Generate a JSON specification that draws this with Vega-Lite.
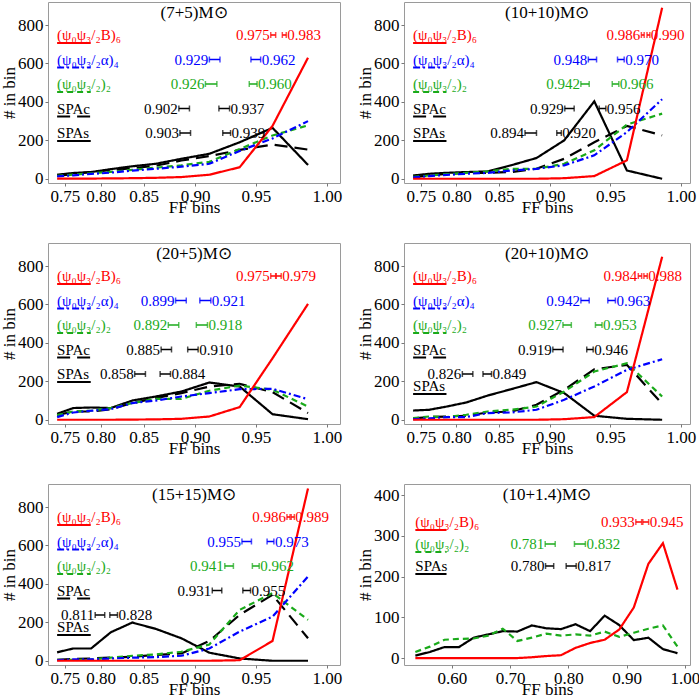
{
"$schema": "https://vega.github.io/schema/vega-lite/v6.json",
"padding": {"left": 0, "top": 1, "right": 0, "bottom": 0},
"config": {
 "font": "Liberation Serif",
 "view": {"stroke": "#9a9a9a", "strokeWidth": 1},
 "axis": {"grid": false, "domain": false, "labelFont": "Liberation Serif", "titleFont": "Liberation Serif", "labelFontSize": 17, "titleFontSize": 17, "titleFontWeight": "normal", "labelColor": "#000", "titleColor": "#000", "tickColor": "#777", "tickSize": 3, "labelOverlap": false, "labelFlush": false},
 "axisX": {"labelPadding": 2, "titlePadding": -5},
 "axisY": {"labelPadding": 2, "titlePadding": -1},
 "title": {"font": "Liberation Serif", "fontSize": 17, "fontWeight": "normal", "color": "#000", "offset": -20},
 "text": {"font": "Liberation Serif"}
},
"datasets": {
"curves": [
{"p":1,"s":"SPAs","x":0.7375,"n":21},{"p":1,"s":"SPAs","x":0.7625,"n":30},{"p":1,"s":"SPAs","x":0.7875,"n":35},{"p":1,"s":"SPAs","x":0.8125,"n":50},{"p":1,"s":"SPAs","x":0.8375,"n":65},{"p":1,"s":"SPAs","x":0.8625,"n":78},{"p":1,"s":"SPAs","x":0.8875,"n":104},{"p":1,"s":"SPAs","x":0.9125,"n":130},{"p":1,"s":"SPAs","x":0.9375,"n":190},{"p":1,"s":"SPAs","x":0.9625,"n":265},{"p":1,"s":"SPAs","x":0.9875,"n":72},
{"p":1,"s":"SPAc","x":0.7375,"n":15},{"p":1,"s":"SPAc","x":0.7625,"n":25},{"p":1,"s":"SPAc","x":0.7875,"n":35},{"p":1,"s":"SPAc","x":0.8125,"n":45},{"p":1,"s":"SPAc","x":0.8375,"n":55},{"p":1,"s":"SPAc","x":0.8625,"n":68},{"p":1,"s":"SPAc","x":0.8875,"n":95},{"p":1,"s":"SPAc","x":0.9125,"n":118},{"p":1,"s":"SPAc","x":0.9375,"n":150},{"p":1,"s":"SPAc","x":0.9625,"n":178},{"p":1,"s":"SPAc","x":0.9875,"n":152},
{"p":1,"s":"P2","x":0.7375,"n":15},{"p":1,"s":"P2","x":0.7625,"n":22},{"p":1,"s":"P2","x":0.7875,"n":28},{"p":1,"s":"P2","x":0.8125,"n":36},{"p":1,"s":"P2","x":0.8375,"n":46},{"p":1,"s":"P2","x":0.8625,"n":58},{"p":1,"s":"P2","x":0.8875,"n":70},{"p":1,"s":"P2","x":0.9125,"n":88},{"p":1,"s":"P2","x":0.9375,"n":155},{"p":1,"s":"P2","x":0.9625,"n":225},{"p":1,"s":"P2","x":0.9875,"n":278},
{"p":1,"s":"A4","x":0.7375,"n":12},{"p":1,"s":"A4","x":0.7625,"n":18},{"p":1,"s":"A4","x":0.7875,"n":25},{"p":1,"s":"A4","x":0.8125,"n":32},{"p":1,"s":"A4","x":0.8375,"n":42},{"p":1,"s":"A4","x":0.8625,"n":52},{"p":1,"s":"A4","x":0.8875,"n":63},{"p":1,"s":"A4","x":0.9125,"n":78},{"p":1,"s":"A4","x":0.9375,"n":145},{"p":1,"s":"A4","x":0.9625,"n":210},{"p":1,"s":"A4","x":0.9875,"n":300},
{"p":1,"s":"B6","x":0.7375,"n":1},{"p":1,"s":"B6","x":0.7625,"n":1},{"p":1,"s":"B6","x":0.7875,"n":1},{"p":1,"s":"B6","x":0.8125,"n":2},{"p":1,"s":"B6","x":0.8375,"n":3},{"p":1,"s":"B6","x":0.8625,"n":5},{"p":1,"s":"B6","x":0.8875,"n":9},{"p":1,"s":"B6","x":0.9125,"n":21},{"p":1,"s":"B6","x":0.9375,"n":60},{"p":1,"s":"B6","x":0.9625,"n":275},{"p":1,"s":"B6","x":0.9875,"n":630},
{"p":2,"s":"SPAs","x":0.7375,"n":17},{"p":2,"s":"SPAs","x":0.7625,"n":26},{"p":2,"s":"SPAs","x":0.7875,"n":31},{"p":2,"s":"SPAs","x":0.8125,"n":35},{"p":2,"s":"SPAs","x":0.8375,"n":38},{"p":2,"s":"SPAs","x":0.8625,"n":70},{"p":2,"s":"SPAs","x":0.8875,"n":108},{"p":2,"s":"SPAs","x":0.9125,"n":200},{"p":2,"s":"SPAs","x":0.9375,"n":403},{"p":2,"s":"SPAs","x":0.9625,"n":43},{"p":2,"s":"SPAs","x":0.9875,"n":0},
{"p":2,"s":"SPAc","x":0.7375,"n":9},{"p":2,"s":"SPAc","x":0.7625,"n":17},{"p":2,"s":"SPAc","x":0.7875,"n":26},{"p":2,"s":"SPAc","x":0.8125,"n":30},{"p":2,"s":"SPAc","x":0.8375,"n":31},{"p":2,"s":"SPAc","x":0.8625,"n":35},{"p":2,"s":"SPAc","x":0.8875,"n":52},{"p":2,"s":"SPAc","x":0.9125,"n":104},{"p":2,"s":"SPAc","x":0.9375,"n":190},{"p":2,"s":"SPAc","x":0.9625,"n":275},{"p":2,"s":"SPAc","x":0.9875,"n":226},
{"p":2,"s":"P2","x":0.7375,"n":10},{"p":2,"s":"P2","x":0.7625,"n":17},{"p":2,"s":"P2","x":0.7875,"n":24},{"p":2,"s":"P2","x":0.8125,"n":31},{"p":2,"s":"P2","x":0.8375,"n":38},{"p":2,"s":"P2","x":0.8625,"n":52},{"p":2,"s":"P2","x":0.8875,"n":52},{"p":2,"s":"P2","x":0.9125,"n":78},{"p":2,"s":"P2","x":0.9375,"n":148},{"p":2,"s":"P2","x":0.9625,"n":282},{"p":2,"s":"P2","x":0.9875,"n":339},
{"p":2,"s":"A4","x":0.7375,"n":7},{"p":2,"s":"A4","x":0.7625,"n":14},{"p":2,"s":"A4","x":0.7875,"n":20},{"p":2,"s":"A4","x":0.8125,"n":26},{"p":2,"s":"A4","x":0.8375,"n":31},{"p":2,"s":"A4","x":0.8625,"n":43},{"p":2,"s":"A4","x":0.8875,"n":52},{"p":2,"s":"A4","x":0.9125,"n":70},{"p":2,"s":"A4","x":0.9375,"n":122},{"p":2,"s":"A4","x":0.9625,"n":243},{"p":2,"s":"A4","x":0.9875,"n":414},
{"p":2,"s":"B6","x":0.7375,"n":0},{"p":2,"s":"B6","x":0.7625,"n":0},{"p":2,"s":"B6","x":0.7875,"n":0},{"p":2,"s":"B6","x":0.8125,"n":0},{"p":2,"s":"B6","x":0.8375,"n":0},{"p":2,"s":"B6","x":0.8625,"n":0},{"p":2,"s":"B6","x":0.8875,"n":0},{"p":2,"s":"B6","x":0.9125,"n":3},{"p":2,"s":"B6","x":0.9375,"n":14},{"p":2,"s":"B6","x":0.9625,"n":96},{"p":2,"s":"B6","x":0.9875,"n":890},
{"p":3,"s":"SPAs","x":0.7375,"n":31},{"p":3,"s":"SPAs","x":0.7625,"n":61},{"p":3,"s":"SPAs","x":0.7875,"n":64},{"p":3,"s":"SPAs","x":0.8125,"n":61},{"p":3,"s":"SPAs","x":0.8375,"n":100},{"p":3,"s":"SPAs","x":0.8625,"n":121},{"p":3,"s":"SPAs","x":0.8875,"n":147},{"p":3,"s":"SPAs","x":0.9125,"n":194},{"p":3,"s":"SPAs","x":0.9375,"n":173},{"p":3,"s":"SPAs","x":0.9625,"n":29},{"p":3,"s":"SPAs","x":0.9875,"n":3},
{"p":3,"s":"SPAc","x":0.7375,"n":24},{"p":3,"s":"SPAc","x":0.7625,"n":43},{"p":3,"s":"SPAc","x":0.7875,"n":43},{"p":3,"s":"SPAc","x":0.8125,"n":55},{"p":3,"s":"SPAc","x":0.8375,"n":87},{"p":3,"s":"SPAc","x":0.8625,"n":113},{"p":3,"s":"SPAc","x":0.8875,"n":139},{"p":3,"s":"SPAc","x":0.9125,"n":173},{"p":3,"s":"SPAc","x":0.9375,"n":187},{"p":3,"s":"SPAc","x":0.9625,"n":144},{"p":3,"s":"SPAc","x":0.9875,"n":35},
{"p":3,"s":"P2","x":0.7375,"n":24},{"p":3,"s":"P2","x":0.7625,"n":43},{"p":3,"s":"P2","x":0.7875,"n":47},{"p":3,"s":"P2","x":0.8125,"n":61},{"p":3,"s":"P2","x":0.8375,"n":87},{"p":3,"s":"P2","x":0.8625,"n":109},{"p":3,"s":"P2","x":0.8875,"n":109},{"p":3,"s":"P2","x":0.9125,"n":151},{"p":3,"s":"P2","x":0.9375,"n":178},{"p":3,"s":"P2","x":0.9625,"n":156},{"p":3,"s":"P2","x":0.9875,"n":69},
{"p":3,"s":"A4","x":0.7375,"n":14},{"p":3,"s":"A4","x":0.7625,"n":38},{"p":3,"s":"A4","x":0.7875,"n":47},{"p":3,"s":"A4","x":0.8125,"n":55},{"p":3,"s":"A4","x":0.8375,"n":87},{"p":3,"s":"A4","x":0.8625,"n":100},{"p":3,"s":"A4","x":0.8875,"n":121},{"p":3,"s":"A4","x":0.9125,"n":139},{"p":3,"s":"A4","x":0.9375,"n":159},{"p":3,"s":"A4","x":0.9625,"n":161},{"p":3,"s":"A4","x":0.9875,"n":107},
{"p":3,"s":"B6","x":0.7375,"n":0},{"p":3,"s":"B6","x":0.7625,"n":0},{"p":3,"s":"B6","x":0.7875,"n":0},{"p":3,"s":"B6","x":0.8125,"n":0},{"p":3,"s":"B6","x":0.8375,"n":1},{"p":3,"s":"B6","x":0.8625,"n":2},{"p":3,"s":"B6","x":0.8875,"n":5},{"p":3,"s":"B6","x":0.9125,"n":17},{"p":3,"s":"B6","x":0.9375,"n":66},{"p":3,"s":"B6","x":0.9625,"n":320},{"p":3,"s":"B6","x":0.9875,"n":603},
{"p":4,"s":"SPAs","x":0.7375,"n":48},{"p":4,"s":"SPAs","x":0.7625,"n":52},{"p":4,"s":"SPAs","x":0.7875,"n":69},{"p":4,"s":"SPAs","x":0.8125,"n":90},{"p":4,"s":"SPAs","x":0.8375,"n":126},{"p":4,"s":"SPAs","x":0.8625,"n":159},{"p":4,"s":"SPAs","x":0.8875,"n":196},{"p":4,"s":"SPAs","x":0.9125,"n":139},{"p":4,"s":"SPAs","x":0.9375,"n":21},{"p":4,"s":"SPAs","x":0.9625,"n":5},{"p":4,"s":"SPAs","x":0.9875,"n":0},
{"p":4,"s":"SPAc","x":0.7375,"n":7},{"p":4,"s":"SPAc","x":0.7625,"n":14},{"p":4,"s":"SPAc","x":0.7875,"n":17},{"p":4,"s":"SPAc","x":0.8125,"n":21},{"p":4,"s":"SPAc","x":0.8375,"n":38},{"p":4,"s":"SPAc","x":0.8625,"n":43},{"p":4,"s":"SPAc","x":0.8875,"n":78},{"p":4,"s":"SPAc","x":0.9125,"n":156},{"p":4,"s":"SPAc","x":0.9375,"n":263},{"p":4,"s":"SPAc","x":0.9625,"n":286},{"p":4,"s":"SPAc","x":0.9875,"n":83},
{"p":4,"s":"P2","x":0.7375,"n":9},{"p":4,"s":"P2","x":0.7625,"n":17},{"p":4,"s":"P2","x":0.7875,"n":14},{"p":4,"s":"P2","x":0.8125,"n":26},{"p":4,"s":"P2","x":0.8375,"n":43},{"p":4,"s":"P2","x":0.8625,"n":52},{"p":4,"s":"P2","x":0.8875,"n":69},{"p":4,"s":"P2","x":0.9125,"n":147},{"p":4,"s":"P2","x":0.9375,"n":251},{"p":4,"s":"P2","x":0.9625,"n":294},{"p":4,"s":"P2","x":0.9875,"n":121},
{"p":4,"s":"A4","x":0.7375,"n":3},{"p":4,"s":"A4","x":0.7625,"n":7},{"p":4,"s":"A4","x":0.7875,"n":14},{"p":4,"s":"A4","x":0.8125,"n":14},{"p":4,"s":"A4","x":0.8375,"n":35},{"p":4,"s":"A4","x":0.8625,"n":38},{"p":4,"s":"A4","x":0.8875,"n":52},{"p":4,"s":"A4","x":0.9125,"n":104},{"p":4,"s":"A4","x":0.9375,"n":173},{"p":4,"s":"A4","x":0.9625,"n":260},{"p":4,"s":"A4","x":0.9875,"n":315},
{"p":4,"s":"B6","x":0.7375,"n":0},{"p":4,"s":"B6","x":0.7625,"n":0},{"p":4,"s":"B6","x":0.7875,"n":0},{"p":4,"s":"B6","x":0.8125,"n":0},{"p":4,"s":"B6","x":0.8375,"n":0},{"p":4,"s":"B6","x":0.8625,"n":0},{"p":4,"s":"B6","x":0.8875,"n":0},{"p":4,"s":"B6","x":0.9125,"n":3},{"p":4,"s":"B6","x":0.9375,"n":14},{"p":4,"s":"B6","x":0.9625,"n":144},{"p":4,"s":"B6","x":0.9875,"n":848},
{"p":5,"s":"SPAs","x":0.7375,"n":44},{"p":5,"s":"SPAs","x":0.7625,"n":64},{"p":5,"s":"SPAs","x":0.7875,"n":64},{"p":5,"s":"SPAs","x":0.8125,"n":148},{"p":5,"s":"SPAs","x":0.8375,"n":199},{"p":5,"s":"SPAs","x":0.8625,"n":166},{"p":5,"s":"SPAs","x":0.8875,"n":117},{"p":5,"s":"SPAs","x":0.9125,"n":42},{"p":5,"s":"SPAs","x":0.9375,"n":12},{"p":5,"s":"SPAs","x":0.9625,"n":0},{"p":5,"s":"SPAs","x":0.9875,"n":0},
{"p":5,"s":"SPAc","x":0.7375,"n":5},{"p":5,"s":"SPAc","x":0.7625,"n":9},{"p":5,"s":"SPAc","x":0.7875,"n":12},{"p":5,"s":"SPAc","x":0.8125,"n":17},{"p":5,"s":"SPAc","x":0.8375,"n":21},{"p":5,"s":"SPAc","x":0.8625,"n":30},{"p":5,"s":"SPAc","x":0.8875,"n":38},{"p":5,"s":"SPAc","x":0.9125,"n":103},{"p":5,"s":"SPAc","x":0.9375,"n":239},{"p":5,"s":"SPAc","x":0.9625,"n":343},{"p":5,"s":"SPAc","x":0.9875,"n":117},
{"p":5,"s":"P2","x":0.7375,"n":5},{"p":5,"s":"P2","x":0.7625,"n":5},{"p":5,"s":"P2","x":0.7875,"n":7},{"p":5,"s":"P2","x":0.8125,"n":16},{"p":5,"s":"P2","x":0.8375,"n":26},{"p":5,"s":"P2","x":0.8625,"n":33},{"p":5,"s":"P2","x":0.8875,"n":47},{"p":5,"s":"P2","x":0.9125,"n":85},{"p":5,"s":"P2","x":0.9375,"n":265},{"p":5,"s":"P2","x":0.9625,"n":352},{"p":5,"s":"P2","x":0.9875,"n":213},
{"p":5,"s":"A4","x":0.7375,"n":3},{"p":5,"s":"A4","x":0.7625,"n":7},{"p":5,"s":"A4","x":0.7875,"n":7},{"p":5,"s":"A4","x":0.8125,"n":12},{"p":5,"s":"A4","x":0.8375,"n":16},{"p":5,"s":"A4","x":0.8625,"n":19},{"p":5,"s":"A4","x":0.8875,"n":26},{"p":5,"s":"A4","x":0.9125,"n":64},{"p":5,"s":"A4","x":0.9375,"n":152},{"p":5,"s":"A4","x":0.9625,"n":230},{"p":5,"s":"A4","x":0.9875,"n":439},
{"p":5,"s":"B6","x":0.7375,"n":0},{"p":5,"s":"B6","x":0.7625,"n":0},{"p":5,"s":"B6","x":0.7875,"n":0},{"p":5,"s":"B6","x":0.8125,"n":0},{"p":5,"s":"B6","x":0.8375,"n":0},{"p":5,"s":"B6","x":0.8625,"n":0},{"p":5,"s":"B6","x":0.8875,"n":0},{"p":5,"s":"B6","x":0.9125,"n":0},{"p":5,"s":"B6","x":0.9375,"n":3},{"p":5,"s":"B6","x":0.9625,"n":103},{"p":5,"s":"B6","x":0.9875,"n":897},
{"p":6,"s":"SPAs","x":0.5375,"n":6},{"p":6,"s":"SPAs","x":0.5625,"n":15},{"p":6,"s":"SPAs","x":0.5875,"n":27},{"p":6,"s":"SPAs","x":0.6125,"n":27},{"p":6,"s":"SPAs","x":0.6375,"n":50},{"p":6,"s":"SPAs","x":0.6625,"n":58},{"p":6,"s":"SPAs","x":0.6875,"n":66},{"p":6,"s":"SPAs","x":0.7125,"n":65},{"p":6,"s":"SPAs","x":0.7375,"n":80},{"p":6,"s":"SPAs","x":0.7625,"n":73},{"p":6,"s":"SPAs","x":0.7875,"n":71},{"p":6,"s":"SPAs","x":0.8125,"n":83},{"p":6,"s":"SPAs","x":0.8375,"n":66},{"p":6,"s":"SPAs","x":0.8625,"n":104},{"p":6,"s":"SPAs","x":0.8875,"n":81},{"p":6,"s":"SPAs","x":0.9125,"n":44},{"p":6,"s":"SPAs","x":0.9375,"n":50},{"p":6,"s":"SPAs","x":0.9625,"n":22},{"p":6,"s":"SPAs","x":0.9875,"n":12},
{"p":6,"s":"P2","x":0.5375,"n":15},{"p":6,"s":"P2","x":0.5625,"n":28},{"p":6,"s":"P2","x":0.5875,"n":45},{"p":6,"s":"P2","x":0.6125,"n":47},{"p":6,"s":"P2","x":0.6375,"n":48},{"p":6,"s":"P2","x":0.6625,"n":55},{"p":6,"s":"P2","x":0.6875,"n":72},{"p":6,"s":"P2","x":0.7125,"n":42},{"p":6,"s":"P2","x":0.7375,"n":50},{"p":6,"s":"P2","x":0.7625,"n":60},{"p":6,"s":"P2","x":0.7875,"n":55},{"p":6,"s":"P2","x":0.8125,"n":58},{"p":6,"s":"P2","x":0.8375,"n":55},{"p":6,"s":"P2","x":0.8625,"n":65},{"p":6,"s":"P2","x":0.8875,"n":52},{"p":6,"s":"P2","x":0.9125,"n":62},{"p":6,"s":"P2","x":0.9375,"n":72},{"p":6,"s":"P2","x":0.9625,"n":80},{"p":6,"s":"P2","x":0.9875,"n":28},
{"p":6,"s":"B6","x":0.5375,"n":0},{"p":6,"s":"B6","x":0.5625,"n":0},{"p":6,"s":"B6","x":0.5875,"n":0},{"p":6,"s":"B6","x":0.6125,"n":0},{"p":6,"s":"B6","x":0.6375,"n":0},{"p":6,"s":"B6","x":0.6625,"n":0},{"p":6,"s":"B6","x":0.6875,"n":0},{"p":6,"s":"B6","x":0.7125,"n":0},{"p":6,"s":"B6","x":0.7375,"n":2},{"p":6,"s":"B6","x":0.7625,"n":5},{"p":6,"s":"B6","x":0.7875,"n":7},{"p":6,"s":"B6","x":0.8125,"n":25},{"p":6,"s":"B6","x":0.8375,"n":37},{"p":6,"s":"B6","x":0.8625,"n":45},{"p":6,"s":"B6","x":0.8875,"n":70},{"p":6,"s":"B6","x":0.9125,"n":124},{"p":6,"s":"B6","x":0.9375,"n":231},{"p":6,"s":"B6","x":0.9625,"n":282},{"p":6,"s":"B6","x":0.9875,"n":168}
],
"legend": [
{"p":1,"s":"B6","label":"(ψ₀ψ₃/₂B)₆","lo":0.975,"hi":0.983,"loA":0.9612,"loB":0.9648,"hiA":0.9696,"hiB":0.9724},
{"p":1,"s":"A4","label":"(ψ₀ψ₃/₂α)₄","lo":0.929,"hi":0.962,"loA":0.9125,"loB":0.9215,"hiA":0.9463,"hiB":0.9537},
{"p":1,"s":"P2","label":"(ψ₀ψ₃/₂)₂","lo":0.926,"hi":0.960,"loA":0.9091,"loB":0.9189,"hiA":0.945,"hiB":0.951},
{"p":1,"s":"SPAc","label":"SPAc","lo":0.902,"hi":0.937,"loA":0.8851,"loB":0.8949,"hiA":0.9206,"hiB":0.9294},
{"p":1,"s":"SPAs","label":"SPAs","lo":0.903,"hi":0.939,"loA":0.8861,"loB":0.8959,"hiA":0.9238,"hiB":0.9302},
{"p":2,"s":"B6","label":"(ψ₀ψ₃/₂B)₆","lo":0.986,"hi":0.990,"loA":0.973,"loB":0.975,"hiA":0.977,"hiB":0.979},
{"p":2,"s":"A4","label":"(ψ₀ψ₃/₂α)₄","lo":0.948,"hi":0.970,"loA":0.9327,"loB":0.9393,"hiA":0.9555,"hiB":0.9605},
{"p":2,"s":"P2","label":"(ψ₀ψ₃/₂)₂","lo":0.942,"hi":0.966,"loA":0.9266,"loB":0.9334,"hiA":0.9515,"hiB":0.9565},
{"p":2,"s":"SPAc","label":"SPAc","lo":0.929,"hi":0.956,"loA":0.913,"loB":0.921,"hiA":0.9414,"hiB":0.9466},
{"p":2,"s":"SPAs","label":"SPAs","lo":0.894,"hi":0.920,"loA":0.8765,"loB":0.8875,"hiA":0.906,"hiB":0.910},
{"p":3,"s":"B6","label":"(ψ₀ψ₃/₂B)₆","lo":0.975,"hi":0.979,"loA":0.9612,"loB":0.9648,"hiA":0.9652,"hiB":0.9688},
{"p":3,"s":"A4","label":"(ψ₀ψ₃/₂α)₄","lo":0.899,"hi":0.921,"loA":0.882,"loB":0.892,"hiA":0.9042,"hiB":0.9138},
{"p":3,"s":"P2","label":"(ψ₀ψ₃/₂)₂","lo":0.892,"hi":0.918,"loA":0.875,"loB":0.885,"hiA":0.9011,"hiB":0.9109},
{"p":3,"s":"SPAc","label":"SPAc","lo":0.885,"hi":0.910,"loA":0.8679,"loB":0.8781,"hiA":0.8933,"hiB":0.9027},
{"p":3,"s":"SPAs","label":"SPAs","lo":0.858,"hi":0.884,"loA":0.8402,"loB":0.8518,"hiA":0.8669,"hiB":0.8771},
{"p":4,"s":"B6","label":"(ψ₀ψ₃/₂B)₆","lo":0.984,"hi":0.988,"loA":0.9708,"loB":0.9732,"hiA":0.9748,"hiB":0.9772},
{"p":4,"s":"A4","label":"(ψ₀ψ₃/₂α)₄","lo":0.942,"hi":0.963,"loA":0.9266,"loB":0.9334,"hiA":0.9481,"hiB":0.9539},
{"p":4,"s":"P2","label":"(ψ₀ψ₃/₂)₂","lo":0.927,"hi":0.953,"loA":0.9114,"loB":0.9186,"hiA":0.9384,"hiB":0.9436},
{"p":4,"s":"SPAc","label":"SPAc","lo":0.919,"hi":0.946,"loA":0.9025,"loB":0.9115,"hiA":0.9314,"hiB":0.9366},
{"p":4,"s":"SPAs","label":"SPAs","lo":0.826,"hi":0.849,"loA":0.8076,"loB":0.8204,"hiA":0.8322,"hiB":0.8418},
{"p":5,"s":"B6","label":"(ψ₀ψ₃/₂B)₆","lo":0.986,"hi":0.989,"loA":0.9729,"loB":0.9751,"hiA":0.9759,"hiB":0.9781},
{"p":5,"s":"A4","label":"(ψ₀ψ₃/₂α)₄","lo":0.955,"hi":0.973,"loA":0.9393,"loB":0.9467,"hiA":0.9585,"hiB":0.9635},
{"p":5,"s":"P2","label":"(ψ₀ψ₃/₂)₂","lo":0.941,"hi":0.962,"loA":0.9255,"loB":0.9325,"hiA":0.9474,"hiB":0.9526},
{"p":5,"s":"SPAc","label":"SPAc","lo":0.931,"hi":0.955,"loA":0.915,"loB":0.923,"hiA":0.940,"hiB":0.946},
{"p":5,"s":"SPAs","label":"SPAs","lo":0.811,"hi":0.828,"loA":0.7929,"loB":0.8051,"hiA":0.8114,"hiB":0.8206},
{"p":6,"s":"B6","label":"(ψ₀ψ₃/₂B)₆","lo":0.933,"hi":0.945,"loA":0.916,"loB":0.926,"hiA":0.928,"hiB":0.938},
{"p":6,"s":"P2","label":"(ψ₀ψ₃/₂)₂","lo":0.781,"hi":0.832,"loA":0.7604,"loB":0.7776,"hiA":0.8106,"hiB":0.8294},
{"p":6,"s":"SPAs","label":"SPAs","lo":0.780,"hi":0.817,"loA":0.761,"loB":0.775,"hiA":0.7964,"hiB":0.8136}
]
},
"columns": 2,
"spacing": {"row": 60, "column": 64},
"bounds": "flush",
"concat": [
{
 "width": 292, "height": 181,
 "title": {"text": "(7+5)M⊙"},
 "data": {"name": "legend"},
 "transform": [{"filter": "datum.p == 1"}],
 "resolve": {"scale": {"y": "independent"}},
 "layer": [
  {"data": {"name": "curves"}, "transform": [{"filter": "datum.p == 1"}],
   "mark": {"type": "line", "strokeWidth": 2.2},
   "encoding": {
    "x": {"field": "x", "type": "quantitative", "scale": {"type": "pow", "exponent": 4, "domain": [0.7222, 1.0085], "nice": false, "zero": false}, "axis": {"values": [0.75, 0.8, 0.85, 0.9, 0.95, 1], "format": ".2f", "title": "FF bins"}},
    "y": {"field": "n", "type": "quantitative", "scale": {"domain": [-22, 920], "nice": false, "zero": false}, "axis": {"values": [0, 200, 400, 600, 800], "title": "# in bin"}},
    "color": {"field": "s", "type": "nominal", "scale": {"domain": ["B6", "A4", "P2", "SPAc", "SPAs"], "range": ["#ff0000", "#0000ff", "#1aaa1a", "#000000", "#000000"]}, "legend": null},
    "strokeDash": {"field": "s", "type": "nominal", "scale": {"domain": ["B6", "A4", "P2", "SPAc", "SPAs"], "range": [[1, 0], [7, 3, 2, 3], [6, 4], [13, 7], [1, 0]]}, "legend": null}
   }},
  {"mark": {"type": "text", "align": "left", "baseline": "middle", "fontSize": 15},
   "encoding": {"x": {"datum": 0.7375, "type": "quantitative"}, "y": {"field": "s", "type": "nominal", "scale": {"type": "point", "domain": ["B6", "A4", "P2", "SPAc", "SPAs"], "range": [33, 131], "padding": 0}, "axis": null}, "text": {"field": "label"}, "color": {"field": "s", "type": "nominal", "legend": null}}},
  {"mark": {"type": "rule", "strokeWidth": 2.2, "yOffset": 8},
   "encoding": {"x": {"datum": 0.7375, "type": "quantitative"}, "x2": {"datum": 0.787}, "y": {"field": "s", "type": "nominal", "scale": {"type": "point", "domain": ["B6", "A4", "P2", "SPAc", "SPAs"], "range": [33, 131], "padding": 0}, "axis": null}, "color": {"field": "s", "type": "nominal", "legend": null}, "strokeDash": {"field": "s", "type": "nominal", "legend": null}}},
  {"mark": {"type": "rule", "strokeWidth": 1.5},
   "encoding": {"x": {"field": "loA", "type": "quantitative"}, "x2": {"field": "loB"}, "y": {"field": "s", "type": "nominal", "scale": {"type": "point", "domain": ["B6", "A4", "P2", "SPAc", "SPAs"], "range": [33, 131], "padding": 0}, "axis": null}, "color": {"field": "s", "type": "nominal", "legend": null}}},
  {"mark": {"type": "rule", "strokeWidth": 1.5},
   "encoding": {"x": {"field": "hiA", "type": "quantitative"}, "x2": {"field": "hiB"}, "y": {"field": "s", "type": "nominal", "scale": {"type": "point", "domain": ["B6", "A4", "P2", "SPAc", "SPAs"], "range": [33, 131], "padding": 0}, "axis": null}, "color": {"field": "s", "type": "nominal", "legend": null}}},
  {"transform": [{"fold": ["loA", "loB", "hiA", "hiB"], "as": ["k", "v"]}],
   "mark": {"type": "tick", "orient": "vertical", "size": 6, "thickness": 1.5},
   "encoding": {"x": {"field": "v", "type": "quantitative"}, "y": {"field": "s", "type": "nominal", "scale": {"type": "point", "domain": ["B6", "A4", "P2", "SPAc", "SPAs"], "range": [33, 131], "padding": 0}, "axis": null}, "color": {"field": "s", "type": "nominal", "legend": null}}},
  {"mark": {"type": "text", "align": "right", "baseline": "middle", "fontSize": 15, "dx": -1},
   "encoding": {"x": {"field": "loA", "type": "quantitative"}, "y": {"field": "s", "type": "nominal", "scale": {"type": "point", "domain": ["B6", "A4", "P2", "SPAc", "SPAs"], "range": [33, 131], "padding": 0}, "axis": null}, "text": {"field": "lo", "type": "quantitative", "format": ".3f"}, "color": {"field": "s", "type": "nominal", "legend": null}}},
  {"mark": {"type": "text", "align": "left", "baseline": "middle", "fontSize": 15, "dx": 1},
   "encoding": {"x": {"field": "hiB", "type": "quantitative"}, "y": {"field": "s", "type": "nominal", "scale": {"type": "point", "domain": ["B6", "A4", "P2", "SPAc", "SPAs"], "range": [33, 131], "padding": 0}, "axis": null}, "text": {"field": "hi", "type": "quantitative", "format": ".3f"}, "color": {"field": "s", "type": "nominal", "legend": null}}}
 ]
},
{
 "width": 286, "height": 181,
 "title": {"text": "(10+10)M⊙"},
 "data": {"name": "legend"},
 "transform": [{"filter": "datum.p == 2"}],
 "resolve": {"scale": {"y": "independent"}},
 "layer": [
  {"data": {"name": "curves"}, "transform": [{"filter": "datum.p == 2"}],
   "mark": {"type": "line", "strokeWidth": 2.2},
   "encoding": {
    "x": {"field": "x", "type": "quantitative", "scale": {"type": "pow", "exponent": 4, "domain": [0.7221, 1.006], "nice": false, "zero": false}, "axis": {"values": [0.75, 0.8, 0.85, 0.9, 0.95, 1], "format": ".2f", "title": "FF bins"}},
    "y": {"field": "n", "type": "quantitative", "scale": {"domain": [-22, 920], "nice": false, "zero": false}, "axis": {"values": [0, 200, 400, 600, 800], "title": "# in bin"}},
    "color": {"field": "s", "type": "nominal", "scale": {"domain": ["B6", "A4", "P2", "SPAc", "SPAs"], "range": ["#ff0000", "#0000ff", "#1aaa1a", "#000000", "#000000"]}, "legend": null},
    "strokeDash": {"field": "s", "type": "nominal", "scale": {"domain": ["B6", "A4", "P2", "SPAc", "SPAs"], "range": [[1, 0], [7, 3, 2, 3], [6, 4], [13, 7], [1, 0]]}, "legend": null}
   }},
  {"mark": {"type": "text", "align": "left", "baseline": "middle", "fontSize": 15},
   "encoding": {"x": {"datum": 0.7375, "type": "quantitative"}, "y": {"field": "s", "type": "nominal", "scale": {"type": "point", "domain": ["B6", "A4", "P2", "SPAc", "SPAs"], "range": [33, 131], "padding": 0}, "axis": null}, "text": {"field": "label"}, "color": {"field": "s", "type": "nominal", "legend": null}}},
  {"mark": {"type": "rule", "strokeWidth": 2.2, "yOffset": 8},
   "encoding": {"x": {"datum": 0.7375, "type": "quantitative"}, "x2": {"datum": 0.787}, "y": {"field": "s", "type": "nominal", "scale": {"type": "point", "domain": ["B6", "A4", "P2", "SPAc", "SPAs"], "range": [33, 131], "padding": 0}, "axis": null}, "color": {"field": "s", "type": "nominal", "legend": null}, "strokeDash": {"field": "s", "type": "nominal", "legend": null}}},
  {"mark": {"type": "rule", "strokeWidth": 1.5},
   "encoding": {"x": {"field": "loA", "type": "quantitative"}, "x2": {"field": "loB"}, "y": {"field": "s", "type": "nominal", "scale": {"type": "point", "domain": ["B6", "A4", "P2", "SPAc", "SPAs"], "range": [33, 131], "padding": 0}, "axis": null}, "color": {"field": "s", "type": "nominal", "legend": null}}},
  {"mark": {"type": "rule", "strokeWidth": 1.5},
   "encoding": {"x": {"field": "hiA", "type": "quantitative"}, "x2": {"field": "hiB"}, "y": {"field": "s", "type": "nominal", "scale": {"type": "point", "domain": ["B6", "A4", "P2", "SPAc", "SPAs"], "range": [33, 131], "padding": 0}, "axis": null}, "color": {"field": "s", "type": "nominal", "legend": null}}},
  {"transform": [{"fold": ["loA", "loB", "hiA", "hiB"], "as": ["k", "v"]}],
   "mark": {"type": "tick", "orient": "vertical", "size": 6, "thickness": 1.5},
   "encoding": {"x": {"field": "v", "type": "quantitative"}, "y": {"field": "s", "type": "nominal", "scale": {"type": "point", "domain": ["B6", "A4", "P2", "SPAc", "SPAs"], "range": [33, 131], "padding": 0}, "axis": null}, "color": {"field": "s", "type": "nominal", "legend": null}}},
  {"mark": {"type": "text", "align": "right", "baseline": "middle", "fontSize": 15, "dx": -1},
   "encoding": {"x": {"field": "loA", "type": "quantitative"}, "y": {"field": "s", "type": "nominal", "scale": {"type": "point", "domain": ["B6", "A4", "P2", "SPAc", "SPAs"], "range": [33, 131], "padding": 0}, "axis": null}, "text": {"field": "lo", "type": "quantitative", "format": ".3f"}, "color": {"field": "s", "type": "nominal", "legend": null}}},
  {"mark": {"type": "text", "align": "left", "baseline": "middle", "fontSize": 15, "dx": 1},
   "encoding": {"x": {"field": "hiB", "type": "quantitative"}, "y": {"field": "s", "type": "nominal", "scale": {"type": "point", "domain": ["B6", "A4", "P2", "SPAc", "SPAs"], "range": [33, 131], "padding": 0}, "axis": null}, "text": {"field": "hi", "type": "quantitative", "format": ".3f"}, "color": {"field": "s", "type": "nominal", "legend": null}}}
 ]
},
{
 "width": 292, "height": 181,
 "title": {"text": "(20+5)M⊙"},
 "data": {"name": "legend"},
 "transform": [{"filter": "datum.p == 3"}],
 "resolve": {"scale": {"y": "independent"}},
 "layer": [
  {"data": {"name": "curves"}, "transform": [{"filter": "datum.p == 3"}],
   "mark": {"type": "line", "strokeWidth": 2.2},
   "encoding": {
    "x": {"field": "x", "type": "quantitative", "scale": {"type": "pow", "exponent": 4, "domain": [0.7222, 1.0085], "nice": false, "zero": false}, "axis": {"values": [0.75, 0.8, 0.85, 0.9, 0.95, 1], "format": ".2f", "title": "FF bins"}},
    "y": {"field": "n", "type": "quantitative", "scale": {"domain": [-22, 920], "nice": false, "zero": false}, "axis": {"values": [0, 200, 400, 600, 800], "title": "# in bin"}},
    "color": {"field": "s", "type": "nominal", "scale": {"domain": ["B6", "A4", "P2", "SPAc", "SPAs"], "range": ["#ff0000", "#0000ff", "#1aaa1a", "#000000", "#000000"]}, "legend": null},
    "strokeDash": {"field": "s", "type": "nominal", "scale": {"domain": ["B6", "A4", "P2", "SPAc", "SPAs"], "range": [[1, 0], [7, 3, 2, 3], [6, 4], [13, 7], [1, 0]]}, "legend": null}
   }},
  {"mark": {"type": "text", "align": "left", "baseline": "middle", "fontSize": 15},
   "encoding": {"x": {"datum": 0.7375, "type": "quantitative"}, "y": {"field": "s", "type": "nominal", "scale": {"type": "point", "domain": ["B6", "A4", "P2", "SPAc", "SPAs"], "range": [33, 131], "padding": 0}, "axis": null}, "text": {"field": "label"}, "color": {"field": "s", "type": "nominal", "legend": null}}},
  {"mark": {"type": "rule", "strokeWidth": 2.2, "yOffset": 8},
   "encoding": {"x": {"datum": 0.7375, "type": "quantitative"}, "x2": {"datum": 0.787}, "y": {"field": "s", "type": "nominal", "scale": {"type": "point", "domain": ["B6", "A4", "P2", "SPAc", "SPAs"], "range": [33, 131], "padding": 0}, "axis": null}, "color": {"field": "s", "type": "nominal", "legend": null}, "strokeDash": {"field": "s", "type": "nominal", "legend": null}}},
  {"mark": {"type": "rule", "strokeWidth": 1.5},
   "encoding": {"x": {"field": "loA", "type": "quantitative"}, "x2": {"field": "loB"}, "y": {"field": "s", "type": "nominal", "scale": {"type": "point", "domain": ["B6", "A4", "P2", "SPAc", "SPAs"], "range": [33, 131], "padding": 0}, "axis": null}, "color": {"field": "s", "type": "nominal", "legend": null}}},
  {"mark": {"type": "rule", "strokeWidth": 1.5},
   "encoding": {"x": {"field": "hiA", "type": "quantitative"}, "x2": {"field": "hiB"}, "y": {"field": "s", "type": "nominal", "scale": {"type": "point", "domain": ["B6", "A4", "P2", "SPAc", "SPAs"], "range": [33, 131], "padding": 0}, "axis": null}, "color": {"field": "s", "type": "nominal", "legend": null}}},
  {"transform": [{"fold": ["loA", "loB", "hiA", "hiB"], "as": ["k", "v"]}],
   "mark": {"type": "tick", "orient": "vertical", "size": 6, "thickness": 1.5},
   "encoding": {"x": {"field": "v", "type": "quantitative"}, "y": {"field": "s", "type": "nominal", "scale": {"type": "point", "domain": ["B6", "A4", "P2", "SPAc", "SPAs"], "range": [33, 131], "padding": 0}, "axis": null}, "color": {"field": "s", "type": "nominal", "legend": null}}},
  {"mark": {"type": "text", "align": "right", "baseline": "middle", "fontSize": 15, "dx": -1},
   "encoding": {"x": {"field": "loA", "type": "quantitative"}, "y": {"field": "s", "type": "nominal", "scale": {"type": "point", "domain": ["B6", "A4", "P2", "SPAc", "SPAs"], "range": [33, 131], "padding": 0}, "axis": null}, "text": {"field": "lo", "type": "quantitative", "format": ".3f"}, "color": {"field": "s", "type": "nominal", "legend": null}}},
  {"mark": {"type": "text", "align": "left", "baseline": "middle", "fontSize": 15, "dx": 1},
   "encoding": {"x": {"field": "hiB", "type": "quantitative"}, "y": {"field": "s", "type": "nominal", "scale": {"type": "point", "domain": ["B6", "A4", "P2", "SPAc", "SPAs"], "range": [33, 131], "padding": 0}, "axis": null}, "text": {"field": "hi", "type": "quantitative", "format": ".3f"}, "color": {"field": "s", "type": "nominal", "legend": null}}}
 ]
},
{
 "width": 286, "height": 181,
 "title": {"text": "(20+10)M⊙"},
 "data": {"name": "legend"},
 "transform": [{"filter": "datum.p == 4"}],
 "resolve": {"scale": {"y": "independent"}},
 "layer": [
  {"data": {"name": "curves"}, "transform": [{"filter": "datum.p == 4"}],
   "mark": {"type": "line", "strokeWidth": 2.2},
   "encoding": {
    "x": {"field": "x", "type": "quantitative", "scale": {"type": "pow", "exponent": 4, "domain": [0.7221, 1.006], "nice": false, "zero": false}, "axis": {"values": [0.75, 0.8, 0.85, 0.9, 0.95, 1], "format": ".2f", "title": "FF bins"}},
    "y": {"field": "n", "type": "quantitative", "scale": {"domain": [-22, 920], "nice": false, "zero": false}, "axis": {"values": [0, 200, 400, 600, 800], "title": "# in bin"}},
    "color": {"field": "s", "type": "nominal", "scale": {"domain": ["B6", "A4", "P2", "SPAc", "SPAs"], "range": ["#ff0000", "#0000ff", "#1aaa1a", "#000000", "#000000"]}, "legend": null},
    "strokeDash": {"field": "s", "type": "nominal", "scale": {"domain": ["B6", "A4", "P2", "SPAc", "SPAs"], "range": [[1, 0], [7, 3, 2, 3], [6, 4], [13, 7], [1, 0]]}, "legend": null}
   }},
  {"transform": [{"filter": "datum.s != 'SPAs'"}],
   "mark": {"type": "text", "align": "left", "baseline": "middle", "fontSize": 15},
   "encoding": {"x": {"datum": 0.7375, "type": "quantitative"}, "y": {"field": "s", "type": "nominal", "scale": {"type": "point", "domain": ["B6", "A4", "P2", "SPAc", "SPAs"], "range": [33, 131], "padding": 0}, "axis": null}, "text": {"field": "label"}, "color": {"field": "s", "type": "nominal", "legend": null}}},
  {"transform": [{"filter": "datum.s == 'SPAs'"}],
   "mark": {"type": "text", "align": "left", "baseline": "middle", "fontSize": 15, "yOffset": 12},
   "encoding": {"x": {"datum": 0.7375, "type": "quantitative"}, "y": {"field": "s", "type": "nominal", "scale": {"type": "point", "domain": ["B6", "A4", "P2", "SPAc", "SPAs"], "range": [33, 131], "padding": 0}, "axis": null}, "text": {"field": "label"}, "color": {"field": "s", "type": "nominal", "legend": null}}},
  {"transform": [{"filter": "datum.s != 'SPAs'"}],
   "mark": {"type": "rule", "strokeWidth": 2.2, "yOffset": 8},
   "encoding": {"x": {"datum": 0.7375, "type": "quantitative"}, "x2": {"datum": 0.787}, "y": {"field": "s", "type": "nominal", "scale": {"type": "point", "domain": ["B6", "A4", "P2", "SPAc", "SPAs"], "range": [33, 131], "padding": 0}, "axis": null}, "color": {"field": "s", "type": "nominal", "legend": null}, "strokeDash": {"field": "s", "type": "nominal", "legend": null}}},
  {"transform": [{"filter": "datum.s == 'SPAs'"}],
   "mark": {"type": "rule", "strokeWidth": 2.2, "yOffset": 20},
   "encoding": {"x": {"datum": 0.7375, "type": "quantitative"}, "x2": {"datum": 0.787}, "y": {"field": "s", "type": "nominal", "scale": {"type": "point", "domain": ["B6", "A4", "P2", "SPAc", "SPAs"], "range": [33, 131], "padding": 0}, "axis": null}, "color": {"field": "s", "type": "nominal", "legend": null}, "strokeDash": {"field": "s", "type": "nominal", "legend": null}}},
  {"mark": {"type": "rule", "strokeWidth": 1.5},
   "encoding": {"x": {"field": "loA", "type": "quantitative"}, "x2": {"field": "loB"}, "y": {"field": "s", "type": "nominal", "scale": {"type": "point", "domain": ["B6", "A4", "P2", "SPAc", "SPAs"], "range": [33, 131], "padding": 0}, "axis": null}, "color": {"field": "s", "type": "nominal", "legend": null}}},
  {"mark": {"type": "rule", "strokeWidth": 1.5},
   "encoding": {"x": {"field": "hiA", "type": "quantitative"}, "x2": {"field": "hiB"}, "y": {"field": "s", "type": "nominal", "scale": {"type": "point", "domain": ["B6", "A4", "P2", "SPAc", "SPAs"], "range": [33, 131], "padding": 0}, "axis": null}, "color": {"field": "s", "type": "nominal", "legend": null}}},
  {"transform": [{"fold": ["loA", "loB", "hiA", "hiB"], "as": ["k", "v"]}],
   "mark": {"type": "tick", "orient": "vertical", "size": 6, "thickness": 1.5},
   "encoding": {"x": {"field": "v", "type": "quantitative"}, "y": {"field": "s", "type": "nominal", "scale": {"type": "point", "domain": ["B6", "A4", "P2", "SPAc", "SPAs"], "range": [33, 131], "padding": 0}, "axis": null}, "color": {"field": "s", "type": "nominal", "legend": null}}},
  {"mark": {"type": "text", "align": "right", "baseline": "middle", "fontSize": 15, "dx": -1},
   "encoding": {"x": {"field": "loA", "type": "quantitative"}, "y": {"field": "s", "type": "nominal", "scale": {"type": "point", "domain": ["B6", "A4", "P2", "SPAc", "SPAs"], "range": [33, 131], "padding": 0}, "axis": null}, "text": {"field": "lo", "type": "quantitative", "format": ".3f"}, "color": {"field": "s", "type": "nominal", "legend": null}}},
  {"mark": {"type": "text", "align": "left", "baseline": "middle", "fontSize": 15, "dx": 1},
   "encoding": {"x": {"field": "hiB", "type": "quantitative"}, "y": {"field": "s", "type": "nominal", "scale": {"type": "point", "domain": ["B6", "A4", "P2", "SPAc", "SPAs"], "range": [33, 131], "padding": 0}, "axis": null}, "text": {"field": "hi", "type": "quantitative", "format": ".3f"}, "color": {"field": "s", "type": "nominal", "legend": null}}}
 ]
},
{
 "width": 292, "height": 181,
 "title": {"text": "(15+15)M⊙"},
 "data": {"name": "legend"},
 "transform": [{"filter": "datum.p == 5"}],
 "resolve": {"scale": {"y": "independent"}},
 "layer": [
  {"data": {"name": "curves"}, "transform": [{"filter": "datum.p == 5"}],
   "mark": {"type": "line", "strokeWidth": 2.2},
   "encoding": {
    "x": {"field": "x", "type": "quantitative", "scale": {"type": "pow", "exponent": 4, "domain": [0.7222, 1.0085], "nice": false, "zero": false}, "axis": {"values": [0.75, 0.8, 0.85, 0.9, 0.95, 1], "format": ".2f", "title": "FF bins"}},
    "y": {"field": "n", "type": "quantitative", "scale": {"domain": [-22, 920], "nice": false, "zero": false}, "axis": {"values": [0, 200, 400, 600, 800], "title": "# in bin"}},
    "color": {"field": "s", "type": "nominal", "scale": {"domain": ["B6", "A4", "P2", "SPAc", "SPAs"], "range": ["#ff0000", "#0000ff", "#1aaa1a", "#000000", "#000000"]}, "legend": null},
    "strokeDash": {"field": "s", "type": "nominal", "scale": {"domain": ["B6", "A4", "P2", "SPAc", "SPAs"], "range": [[1, 0], [7, 3, 2, 3], [6, 4], [13, 7], [1, 0]]}, "legend": null}
   }},
  {"transform": [{"filter": "datum.s != 'SPAs'"}],
   "mark": {"type": "text", "align": "left", "baseline": "middle", "fontSize": 15},
   "encoding": {"x": {"datum": 0.7375, "type": "quantitative"}, "y": {"field": "s", "type": "nominal", "scale": {"type": "point", "domain": ["B6", "A4", "P2", "SPAc", "SPAs"], "range": [33, 131], "padding": 0}, "axis": null}, "text": {"field": "label"}, "color": {"field": "s", "type": "nominal", "legend": null}}},
  {"transform": [{"filter": "datum.s == 'SPAs'"}],
   "mark": {"type": "text", "align": "left", "baseline": "middle", "fontSize": 15, "yOffset": 12},
   "encoding": {"x": {"datum": 0.7375, "type": "quantitative"}, "y": {"field": "s", "type": "nominal", "scale": {"type": "point", "domain": ["B6", "A4", "P2", "SPAc", "SPAs"], "range": [33, 131], "padding": 0}, "axis": null}, "text": {"field": "label"}, "color": {"field": "s", "type": "nominal", "legend": null}}},
  {"transform": [{"filter": "datum.s != 'SPAs'"}],
   "mark": {"type": "rule", "strokeWidth": 2.2, "yOffset": 8},
   "encoding": {"x": {"datum": 0.7375, "type": "quantitative"}, "x2": {"datum": 0.787}, "y": {"field": "s", "type": "nominal", "scale": {"type": "point", "domain": ["B6", "A4", "P2", "SPAc", "SPAs"], "range": [33, 131], "padding": 0}, "axis": null}, "color": {"field": "s", "type": "nominal", "legend": null}, "strokeDash": {"field": "s", "type": "nominal", "legend": null}}},
  {"transform": [{"filter": "datum.s == 'SPAs'"}],
   "mark": {"type": "rule", "strokeWidth": 2.2, "yOffset": 20},
   "encoding": {"x": {"datum": 0.7375, "type": "quantitative"}, "x2": {"datum": 0.787}, "y": {"field": "s", "type": "nominal", "scale": {"type": "point", "domain": ["B6", "A4", "P2", "SPAc", "SPAs"], "range": [33, 131], "padding": 0}, "axis": null}, "color": {"field": "s", "type": "nominal", "legend": null}, "strokeDash": {"field": "s", "type": "nominal", "legend": null}}},
  {"mark": {"type": "rule", "strokeWidth": 1.5},
   "encoding": {"x": {"field": "loA", "type": "quantitative"}, "x2": {"field": "loB"}, "y": {"field": "s", "type": "nominal", "scale": {"type": "point", "domain": ["B6", "A4", "P2", "SPAc", "SPAs"], "range": [33, 131], "padding": 0}, "axis": null}, "color": {"field": "s", "type": "nominal", "legend": null}}},
  {"mark": {"type": "rule", "strokeWidth": 1.5},
   "encoding": {"x": {"field": "hiA", "type": "quantitative"}, "x2": {"field": "hiB"}, "y": {"field": "s", "type": "nominal", "scale": {"type": "point", "domain": ["B6", "A4", "P2", "SPAc", "SPAs"], "range": [33, 131], "padding": 0}, "axis": null}, "color": {"field": "s", "type": "nominal", "legend": null}}},
  {"transform": [{"fold": ["loA", "loB", "hiA", "hiB"], "as": ["k", "v"]}],
   "mark": {"type": "tick", "orient": "vertical", "size": 6, "thickness": 1.5},
   "encoding": {"x": {"field": "v", "type": "quantitative"}, "y": {"field": "s", "type": "nominal", "scale": {"type": "point", "domain": ["B6", "A4", "P2", "SPAc", "SPAs"], "range": [33, 131], "padding": 0}, "axis": null}, "color": {"field": "s", "type": "nominal", "legend": null}}},
  {"mark": {"type": "text", "align": "right", "baseline": "middle", "fontSize": 15, "dx": -1},
   "encoding": {"x": {"field": "loA", "type": "quantitative"}, "y": {"field": "s", "type": "nominal", "scale": {"type": "point", "domain": ["B6", "A4", "P2", "SPAc", "SPAs"], "range": [33, 131], "padding": 0}, "axis": null}, "text": {"field": "lo", "type": "quantitative", "format": ".3f"}, "color": {"field": "s", "type": "nominal", "legend": null}}},
  {"mark": {"type": "text", "align": "left", "baseline": "middle", "fontSize": 15, "dx": 1},
   "encoding": {"x": {"field": "hiB", "type": "quantitative"}, "y": {"field": "s", "type": "nominal", "scale": {"type": "point", "domain": ["B6", "A4", "P2", "SPAc", "SPAs"], "range": [33, 131], "padding": 0}, "axis": null}, "text": {"field": "hi", "type": "quantitative", "format": ".3f"}, "color": {"field": "s", "type": "nominal", "legend": null}}}
 ]
},
{
 "width": 286, "height": 181,
 "title": {"text": "(10+1.4)M⊙"},
 "data": {"name": "legend"},
 "transform": [{"filter": "datum.p == 6"}],
 "resolve": {"scale": {"y": "independent"}},
 "layer": [
  {"data": {"name": "curves"}, "transform": [{"filter": "datum.p == 6"}],
   "mark": {"type": "line", "strokeWidth": 2.2},
   "encoding": {
    "x": {"field": "x", "type": "quantitative", "scale": {"domain": [0.518, 1.009], "nice": false, "zero": false}, "axis": {"values": [0.6, 0.7, 0.8, 0.9, 1], "format": ".2f", "title": "FF bins"}},
    "y": {"field": "n", "type": "quantitative", "scale": {"domain": [-17, 427], "nice": false, "zero": false}, "axis": {"values": [0, 100, 200, 300, 400], "title": "# in bin"}},
    "color": {"field": "s", "type": "nominal", "scale": {"domain": ["B6", "A4", "P2", "SPAc", "SPAs"], "range": ["#ff0000", "#0000ff", "#1aaa1a", "#000000", "#000000"]}, "legend": null},
    "strokeDash": {"field": "s", "type": "nominal", "scale": {"domain": ["B6", "A4", "P2", "SPAc", "SPAs"], "range": [[1, 0], [7, 3, 2, 3], [6, 4], [13, 7], [1, 0]]}, "legend": null}
   }},
  {"mark": {"type": "text", "align": "left", "baseline": "middle", "fontSize": 15},
   "encoding": {"x": {"datum": 0.5375, "type": "quantitative"}, "y": {"field": "s", "type": "nominal", "scale": {"type": "point", "domain": ["B6", "P2", "SPAs"], "range": [38, 82], "padding": 0}, "axis": null}, "text": {"field": "label"}, "color": {"field": "s", "type": "nominal", "legend": null}}},
  {"mark": {"type": "rule", "strokeWidth": 2.2, "yOffset": 8},
   "encoding": {"x": {"datum": 0.5375, "type": "quantitative"}, "x2": {"datum": 0.591}, "y": {"field": "s", "type": "nominal", "scale": {"type": "point", "domain": ["B6", "P2", "SPAs"], "range": [38, 82], "padding": 0}, "axis": null}, "color": {"field": "s", "type": "nominal", "legend": null}, "strokeDash": {"field": "s", "type": "nominal", "legend": null}}},
  {"mark": {"type": "rule", "strokeWidth": 1.5},
   "encoding": {"x": {"field": "loA", "type": "quantitative"}, "x2": {"field": "loB"}, "y": {"field": "s", "type": "nominal", "scale": {"type": "point", "domain": ["B6", "P2", "SPAs"], "range": [38, 82], "padding": 0}, "axis": null}, "color": {"field": "s", "type": "nominal", "legend": null}}},
  {"mark": {"type": "rule", "strokeWidth": 1.5},
   "encoding": {"x": {"field": "hiA", "type": "quantitative"}, "x2": {"field": "hiB"}, "y": {"field": "s", "type": "nominal", "scale": {"type": "point", "domain": ["B6", "P2", "SPAs"], "range": [38, 82], "padding": 0}, "axis": null}, "color": {"field": "s", "type": "nominal", "legend": null}}},
  {"transform": [{"fold": ["loA", "loB", "hiA", "hiB"], "as": ["k", "v"]}],
   "mark": {"type": "tick", "orient": "vertical", "size": 6, "thickness": 1.5},
   "encoding": {"x": {"field": "v", "type": "quantitative"}, "y": {"field": "s", "type": "nominal", "scale": {"type": "point", "domain": ["B6", "P2", "SPAs"], "range": [38, 82], "padding": 0}, "axis": null}, "color": {"field": "s", "type": "nominal", "legend": null}}},
  {"mark": {"type": "text", "align": "right", "baseline": "middle", "fontSize": 15, "dx": -1},
   "encoding": {"x": {"field": "loA", "type": "quantitative"}, "y": {"field": "s", "type": "nominal", "scale": {"type": "point", "domain": ["B6", "P2", "SPAs"], "range": [38, 82], "padding": 0}, "axis": null}, "text": {"field": "lo", "type": "quantitative", "format": ".3f"}, "color": {"field": "s", "type": "nominal", "legend": null}}},
  {"mark": {"type": "text", "align": "left", "baseline": "middle", "fontSize": 15, "dx": 1},
   "encoding": {"x": {"field": "hiB", "type": "quantitative"}, "y": {"field": "s", "type": "nominal", "scale": {"type": "point", "domain": ["B6", "P2", "SPAs"], "range": [38, 82], "padding": 0}, "axis": null}, "text": {"field": "hi", "type": "quantitative", "format": ".3f"}, "color": {"field": "s", "type": "nominal", "legend": null}}}
 ]
}
]
}
